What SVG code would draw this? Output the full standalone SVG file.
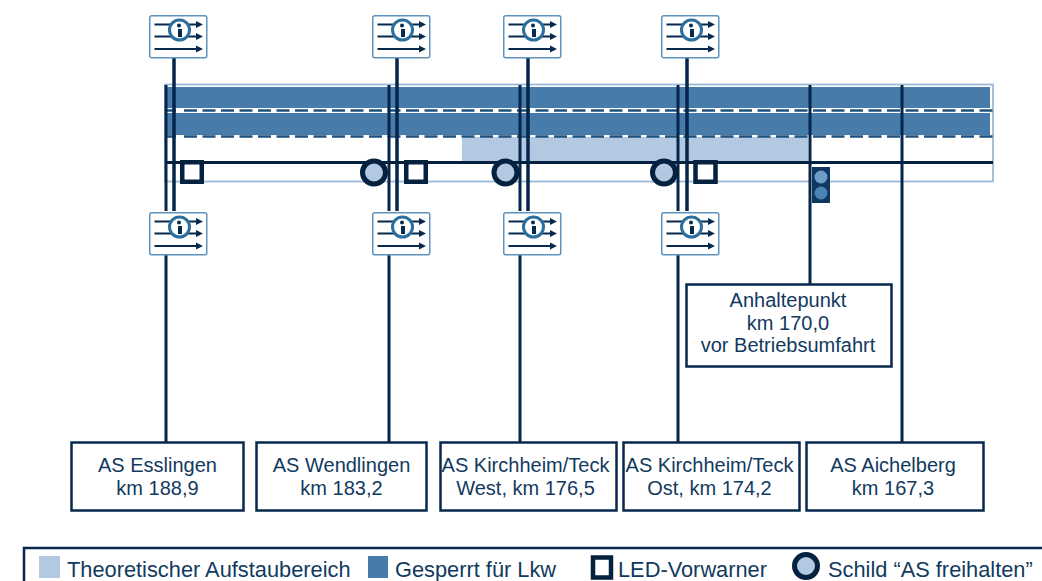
<svg xmlns="http://www.w3.org/2000/svg" xmlns:xlink="http://www.w3.org/1999/xlink" width="1042" height="581" viewBox="0 0 1042 581">
<style>
text{font-family:"Liberation Sans",Arial,sans-serif;fill:#123a5e;font-size:20px;text-anchor:middle}
.box{fill:#fff;stroke:#07294d;stroke-width:2.5}
.v{stroke:#05264a;stroke-width:3;fill:none}
.dash{stroke:#1f527f;stroke-width:2.5;stroke-dasharray:13 5.5;fill:none}
.sq{fill:#fff;stroke:#04213f;stroke-width:4.500}
.ci{fill:#b3c8e1;stroke:#04213f;stroke-width:5}
.dk{fill:#477ba9}
.lt{fill:#b3c8e1}
.leg{font-size:21.8px;text-anchor:start}
</style>
<defs>
<g id="sign">
<rect x="0.75" y="0.75" width="57" height="42" rx="2" fill="#fff" stroke="#5f93bd" stroke-width="1.5"/>
<g stroke="#07294d" stroke-width="2.200" fill="none">
<path d="M5.500 9.500H49M5.500 21.500H49M5.500 34H49"/>
</g>
<path d="M47 6L54 9.500L47 13ZM47 18L54 21.500L47 25ZM47 30.500L54 34L47 37.500Z" fill="#07294d"/>
<circle cx="30.500" cy="15" r="10" fill="#fff" stroke="#2a6f9e" stroke-width="3"/>
<rect x="29" y="14" width="4" height="8" fill="#07294d"/>
<circle cx="30" cy="10.500" r="2" fill="#07294d"/>
</g>
</defs>
<rect width="1042" height="581" fill="#fff"/>
<g id="road">
<rect x="165" y="84.500" width="828" height="97" fill="#fff" stroke="#9db9d8" stroke-width="1.800"/>
<rect class="dk" x="166" y="87" width="824" height="21"/>
<rect class="dk" x="166" y="113" width="824" height="22"/>
<rect class="lt" x="462" y="137" width="346" height="24"/>
<path class="dash" d="M184 110.500H993M184 136.500H993"/>
<path d="M166 110.500H176M166 136.500H176" class="dash"/>
</g>
<g id="connectors">
<path class="v" d="M166 85V211M166 255V442M389 85V211M389 255V442M520 85V211M520 255V442M678 85V211M678 255V442M810 85V284M902 85V442"/>
<path class="v" style="stroke-width:3.500" d="M174 58V211M397 58V211M528 58V211M687 58V211"/>
<path d="M166 162.500H993" stroke="#04213f" stroke-width="3.200" fill="none"/>
</g>
<g id="led-1"><rect class="sq" x="182.250" y="162.250" width="19.500" height="19.500"/></g>
<g id="led-2"><rect class="sq" x="406.250" y="162.250" width="19.500" height="19.500"/></g>
<g id="led-3"><rect class="sq" x="695.500" y="162.250" width="20" height="19.500"/></g>
<g id="schild-1"><circle class="ci" cx="374" cy="172.500" r="11.500"/></g>
<g id="schild-2"><circle class="ci" cx="505.500" cy="172.500" r="11.500"/></g>
<g id="schild-3"><circle class="ci" cx="664" cy="172.500" r="11.500"/></g>
<g id="ampel">
<rect x="812" y="167" width="18" height="36" fill="#0f3760"/>
<circle cx="821" cy="177" r="6.500" fill="#6f9dc9"/>
<circle cx="821" cy="193" r="6.500" fill="#4a84b4"/>
</g>
<g id="sign-1-top"><use xlink:href="#sign" x="149" y="15"/></g>
<g id="sign-2-top"><use xlink:href="#sign" x="372" y="15"/></g>
<g id="sign-3-top"><use xlink:href="#sign" x="503" y="15"/></g>
<g id="sign-4-top"><use xlink:href="#sign" x="661" y="15"/></g>
<g id="sign-1-bottom"><use xlink:href="#sign" x="149" y="212"/></g>
<g id="sign-2-bottom"><use xlink:href="#sign" x="372" y="212"/></g>
<g id="sign-3-bottom"><use xlink:href="#sign" x="503" y="212"/></g>
<g id="sign-4-bottom"><use xlink:href="#sign" x="661" y="212"/></g>
<g id="anhaltepunkt">
<rect class="box" x="686.500" y="284.500" width="205" height="82"/>
<text x="788" y="307">Anhaltepunkt</text>
<text x="788" y="330">km 170,0</text>
<text x="788" y="352">vor Betriebsumfahrt</text>
</g>
<g id="as-esslingen">
<rect class="box" x="71.500" y="442.500" width="172" height="68"/>
<text x="157.500" y="472">AS Esslingen</text><text x="157.500" y="495">km 188,9</text>
</g>
<g id="as-wendlingen">
<rect class="box" x="256.500" y="442.500" width="170" height="68"/>
<text x="341.500" y="472">AS Wendlingen</text><text x="341.500" y="495">km 183,2</text>
</g>
<g id="as-kirchheim-west">
<rect class="box" x="440.500" y="442.500" width="176" height="68"/>
<text x="525.500" y="472">AS Kirchheim/Teck</text><text x="525.500" y="495">West, km 176,5</text>
</g>
<g id="as-kirchheim-ost">
<rect class="box" x="623.500" y="442.500" width="176" height="68"/>
<text x="709.500" y="472">AS Kirchheim/Teck</text><text x="709.500" y="495">Ost, km 174,2</text>
</g>
<g id="as-aichelberg">
<rect class="box" x="806.500" y="442.500" width="177" height="68"/>
<text x="893" y="472">AS Aichelberg</text><text x="893" y="495">km 167,3</text>
</g>
<g id="legende">
<path d="M24 581V548H1042" fill="none" stroke="#07294d" stroke-width="2.500"/>
<rect class="lt" x="39" y="556" width="21" height="22"/>
<text class="leg" x="67" y="577">Theoretischer Aufstaubereich</text>
<rect class="dk" x="368" y="556" width="20" height="22"/>
<text class="leg" x="395" y="577">Gesperrt für Lkw</text>
<rect class="sq" x="593" y="557.500" width="18" height="20"/>
<text class="leg" x="618" y="577">LED-Vorwarner</text>
<circle class="ci" cx="806" cy="566" r="11.500"/>
<text class="leg" x="828" y="577">Schild “AS freihalten”</text>
</g>
</svg>
